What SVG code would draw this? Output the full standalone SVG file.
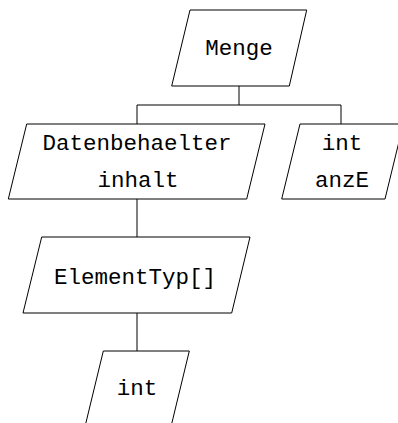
<svg xmlns="http://www.w3.org/2000/svg" width="398" height="423" viewBox="0 0 398 423">
  <style>
    .box { fill: #fff; stroke: #000; stroke-width: 1; }
    .edge { fill: none; stroke: #000; stroke-width: 1; }
    text { font-family: "Liberation Mono", "DejaVu Sans Mono", monospace; font-size: 22.5px; fill: #000; text-anchor: middle; }
  </style>
  <rect width="398" height="423" fill="#fff"/>
  <g id="connectors">
    <path class="edge" d="M239,86 V105 M137,105 H341 M137,105 V124 M341,105 V124"/>
    <path class="edge" d="M137,199 V237"/>
    <path class="edge" d="M137,313 V351"/>
  </g>
  <g id="menge">
    <polygon class="box" points="190,10 306.7,10 289.3,86 171.7,86"/>
    <text x="239" y="55">Menge</text>
  </g>
  <g id="inhalt">
    <polygon class="box" points="26.7,124 265,124 246.7,199 8.3,199"/>
    <text x="137" y="150">Datenbehaelter</text>
    <text x="138" y="187">inhalt</text>
  </g>
  <g id="anzE">
    <polygon class="box" points="300,124 403.3,124 385,199 281.7,199"/>
    <text x="342" y="150">int</text>
    <text x="342" y="187">anzE</text>
  </g>
  <g id="elementtyp-array">
    <polygon class="box" points="41.7,237 250,237 231.7,313 23,313"/>
    <text x="135" y="284">ElementTyp[]</text>
  </g>
  <g id="element-int">
    <polygon class="box" points="103.3,351 189.3,351 170.9,427 84.9,427"/>
    <text x="137" y="395">int</text>
  </g>
</svg>
